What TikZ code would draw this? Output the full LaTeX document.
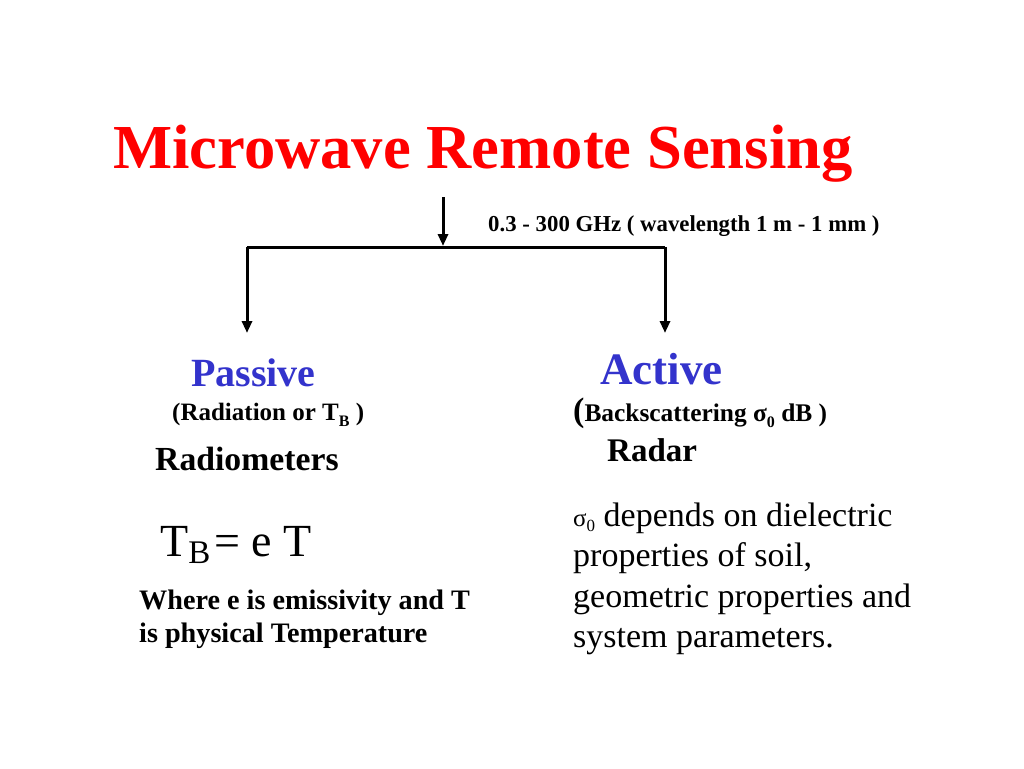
\documentclass[tikz,border=0pt]{standalone}
\usepackage{fontspec}
\setmainfont{Liberation Serif}
\usetikzlibrary{arrows.meta}
\definecolor{titlered}{RGB}{255,0,0}
\definecolor{headblue}{RGB}{51,51,204}
\begin{document}
\begin{tikzpicture}[x=1pt,y=-1pt,
  txt/.style={inner sep=0pt,anchor=base west},
  conn/.style={line width=3pt},
  arr/.style={conn,-{Triangle[length=12pt,width=10pt]}}]
\useasboundingbox[fill=white] (0,0) rectangle (1024,768);
% title
\node[txt,text=titlered,font=\bfseries\fontsize{62.6}{75}\selectfont] (title) at (113,168) {Microwave Remote Sensing};
% connectors
\coordinate (top) at (443,197);
\coordinate (j) at (443,246);
\coordinate (jl) at (247,247);
\coordinate (jr) at (665,247);
\coordinate (el) at (247,333);
\coordinate (er) at (665,333);
\draw[arr] (top) -- (j);
\draw[conn] (jl) -- (jr);
\draw[arr] (jl) -- (el);
\draw[arr] (jr) -- (er);
\node[txt,font=\bfseries\fontsize{22.8}{26}\selectfont] (freq) at (488,231) {0.3 - 300 GHz ( wavelength 1 m - 1 mm )};
% passive
\node[txt,text=headblue,font=\bfseries\fontsize{40}{46}\selectfont] (passive) at (191,386) {Passive};
\node[txt,font=\bfseries\fontsize{25}{30}\selectfont] (rad) at (172,420) {(Radiation or T\raisebox{-0.25em}{\fontsize{16}{19}\selectfont B} )};
\node[txt,font=\bfseries\fontsize{33.7}{40}\selectfont] (radiom) at (155,470) {Radiometers};
\node[txt,font=\fontsize{46}{54}\selectfont] (eq) at (160,556) {T\raisebox{-0.17em}{\fontsize{33}{40}\selectfont B}\hspace{4pt}= e T};
\node[txt,font=\bfseries\fontsize{28.2}{33}\selectfont] (where1) at (139,609) {Where e is emissivity and T};
\node[txt,font=\bfseries\fontsize{28.2}{33}\selectfont] (where2) at (139,642) {is physical Temperature};
% active
\node[txt,text=headblue,font=\bfseries\fontsize{45}{52}\selectfont] (active) at (600,384) {Active};
\node[txt,font=\bfseries\fontsize{25.4}{30}\selectfont] (back) at (573,421) {{\fontsize{34}{38}\selectfont(}Backscattering σ\raisebox{-0.25em}{\fontsize{16}{19}\selectfont 0} dB )};
\node[txt,font=\bfseries\fontsize{33}{40}\selectfont] (radar) at (607,461) {Radar};
\node[txt,font=\fontsize{34}{40}\selectfont] (p1) at (573,526) {{\fontsize{25}{28}\selectfont σ\raisebox{-0.2em}{\fontsize{17}{20}\selectfont 0}} depends on dielectric};
\node[txt,font=\fontsize{34}{40}\selectfont] (p2) at (573,566.5) {properties of soil,};
\node[txt,font=\fontsize{34}{40}\selectfont] (p3) at (573,607) {geometric properties and};
\node[txt,font=\fontsize{34}{40}\selectfont] (p4) at (573,647.5) {system parameters.};
\end{tikzpicture}
\end{document}
